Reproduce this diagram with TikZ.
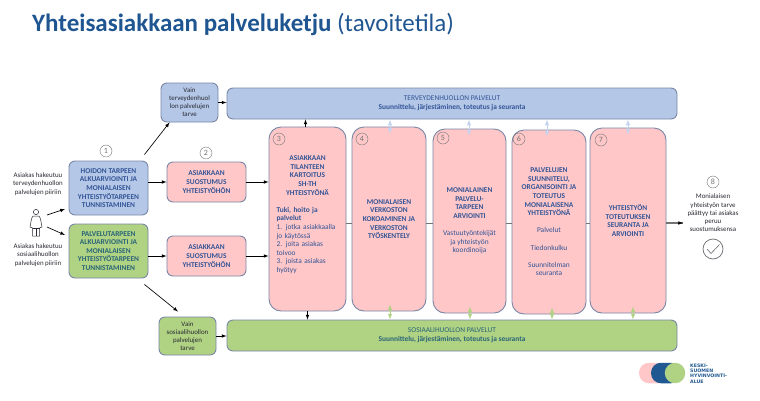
\documentclass[tikz,border=0pt]{standalone}
\usepackage{fontspec}
\setmainfont{Carlito}
\newfontfamily\logofont{DejaVu Sans}
\definecolor{mypink}{RGB}{255,199,200}
\definecolor{myblue}{RGB}{180,199,231}
\definecolor{mylightblue}{RGB}{196,212,238}
\definecolor{mygreen}{RGB}{176,210,131}
\definecolor{myedge}{RGB}{122,134,166}
\definecolor{mytitle}{RGB}{31,86,145}
\definecolor{mytext}{RGB}{50,84,150}
\definecolor{mygtext}{RGB}{40,100,120}
\definecolor{mydark}{RGB}{40,40,50}
\definecolor{mygrey}{RGB}{115,115,115}
\definecolor{mylogo}{RGB}{32,88,145}
\usetikzlibrary{arrows,positioning,calc}
\tikzstyle{box}=[draw=myedge,line width=0.9pt,align=center,inner sep=0pt,rounded corners=6pt]
\tikzstyle{bluebox}=[box,fill=myblue,text=mytext,font=\fontsize{7.4}{8.6}\selectfont\bfseries]
\tikzstyle{greenbox}=[box,fill=mygreen,text=mygtext,font=\fontsize{7.4}{8.6}\selectfont\bfseries]
\tikzstyle{pinkbox}=[box,fill=mypink,text=mytext,font=\fontsize{7.4}{8.6}\selectfont\bfseries]
\tikzstyle{tallbox}=[pinkbox,rounded corners=12pt,minimum height=184pt]
\tikzstyle{smallbox}=[box,text=mydark,font=\fontsize{6.9}{8}\selectfont,minimum width=57pt]
\tikzstyle{label}=[align=center,text=mydark,font=\fontsize{6.9}{8.2}\selectfont]
\tikzstyle{number}=[draw=mygrey,circle,minimum size=12pt,inner sep=0pt,text=mygrey,font=\fontsize{8}{9}\selectfont]
\tikzstyle{arrow}=[->,>=latex,black,line width=0.65pt]
\tikzstyle{bluearrow}=[<->,>=latex,mylightblue,line width=1pt]
\tikzstyle{greenarrow}=[<->,>=latex,mygreen,line width=1pt]
\begin{document}
\begin{tikzpicture}[x=1pt,y=-1pt]
\useasboundingbox (0,0) rectangle (760,400);
\draw (32,24.5) node [anchor=west,inner sep=0pt,text=mytitle,font=\fontsize{25}{28}\selectfont] (title) {\textbf{Yhteisasiakkaan palveluketju} (tavoitetila)};
% left column
\draw (108.5,188) node [bluebox,minimum width=79pt,minimum height=54pt] (hoidon) {HOIDON TARPEEN\\ALKUARVIOINTI JA\\MONIALAISEN\\YHTEISTYÖTARPEEN\\TUNNISTAMINEN};
\draw (108.5,251) node [greenbox,minimum width=79pt,minimum height=54pt] (palv) {PALVELUTARPEEN\\ALKUARVIOINTI JA\\MONIALAISEN\\YHTEISTYÖTARPEEN\\TUNNISTAMINEN};
\draw (206.5,182) node [pinkbox,minimum width=79pt,minimum height=40pt] (suost1) {ASIAKKAAN\\SUOSTUMUS\\YHTEISTYÖHÖN};
\draw (206.5,256) node [pinkbox,minimum width=79pt,minimum height=40pt] (suost2) {ASIAKKAAN\\SUOSTUMUS\\YHTEISTYÖHÖN};
\draw (189.5,102.5) node [smallbox,fill=myblue,minimum height=39pt] (vaint) {Vain\\terveydenhuol\\lon palvelujen\\tarve};
\draw (187.5,336) node [smallbox,fill=mygreen,minimum height=38pt] (vains) {Vain\\sosiaalihuollon\\palvelujen\\tarve};
% service bars
\draw (452,103.5) node [bluebox,minimum width=450pt,minimum height=31pt] (terv) {\mdseries TERVEYDENHUOLLON PALVELUT\\Suunnittelu, järjestäminen, toteutus ja seuranta};
\draw (452,335.5) node [greenbox,minimum width=450pt,minimum height=31pt] (sos) {\mdseries SOSIAALIHUOLLON PALVELUT\\Suunnittelu, järjestäminen, toteutus ja seuranta};
% tall boxes
\draw (307.5,219) node [tallbox,minimum width=77pt,text width=62pt,align=left] (k3) {\centering ASIAKKAAN\\TILANTEEN\\KARTOITUS\\SH-TH\\YHTEISTYÖNÄ\par\vspace{8.6pt}\raggedright Tuki, hoito ja\\palvelut\\\mdseries 1. jotka asiakkaalla\\jo käytössä\\2. joita asiakas\\toivoo\\3. joista asiakas\\hyötyy\par\vspace{8.6pt}};
\draw (389,219) node [tallbox,minimum width=74pt] (k4) {MONIALAISEN\\VERKOSTON\\KOKOAMINEN JA\\VERKOSTON\\TYÖSKENTELY};
\draw (469.5,221) node [tallbox,minimum width=73pt] (k5) {MONIALAINEN\\PALVELU-\\TARPEEN\\ARVIOINTI\\[8.6pt]\mdseries Vastuutyöntekijät\\\mdseries ja yhteistyön\\\mdseries koordinoija};
\draw (549,222) node [tallbox,minimum width=74pt] (k6) {PALVELUJEN\\SUUNNITELU,\\ORGANISOINTI JA\\TOTEUTUS\\MONIALAISENA\\YHTEISTYÖNÄ\\[8.6pt]\mdseries Palvelut\\[8.6pt]\mdseries Tiedonkulku\\[8.6pt]\mdseries Suunnitelman\\\mdseries seuranta};
\draw (628,220.5) node [tallbox,minimum width=76pt,minimum height=185pt] (k7) {YHTEISTYÖN\\TOTEUTUKSEN\\SEURANTA JA\\ARVIOINTI};
% numbers
\draw (106,151) node [number] (n1) {1};
\draw (206,153) node [number] (n2) {2};
\draw (279,139) node [number] (n3) {3};
\draw (362,139) node [number] (n4) {4};
\draw (443,138) node [number] (n5) {5};
\draw (519,139) node [number] (n6) {6};
\draw (601,140) node [number] (n7) {7};
\draw (713,182) node [number] (n8) {8};
% texts
\draw (38,184) node [label] (hakt) {Asiakas hakeutuu\\terveydenhuollon\\palvelujen piiriin};
\draw (38,255) node [label] (haks) {Asiakas hakeutuu\\sosiaalihuollon\\palvelujen piiriin};
\draw (713,213) node [label] (loppu) {Monialaisen\\yhteistyön tarve\\päättyy tai asiakas\\peruu\\suostumuksensa};
% person
\draw (36,224) node [minimum width=12pt,minimum height=26pt,inner sep=0pt] (person) {};
\draw[mydark,line width=0.5pt] (36,212) circle (2.6);
\draw[mydark,line width=0.5pt,fill=white] (33,216) -- (39,216) .. controls (41,218) and (41,223) .. (42,227) -- (39.5,228) -- (39.5,236) -- (32.5,236) -- (32.5,228) -- (30,227) .. controls (31,223) and (31,218) .. (33,216) -- cycle;
\draw[mydark,line width=0.5pt] (36,228) -- (36,236) (32.5,228) -- (39.5,228);
% check
\draw (713,249) node [draw=mydark!70,line width=0.7pt,circle,minimum size=20pt,inner sep=0pt] (ok) {};
\draw[mydark!70,line width=0.6pt] (707,249) -- (711,253.5) -- (719.5,244.5);
% arrows
\coordinate (pa) at (47,215);
\coordinate (pb) at (65,209);
\coordinate (pc) at (47,227);
\coordinate (pd) at (65,235);
\coordinate (mid) at (0,223);
\coordinate (loppuend) at (683,223);
\draw[arrow] (pa) -- (pb);
\draw[arrow] (pc) -- (pd);
\draw[arrow] ([xshift=-4pt,yshift=6pt]hoidon.north east) -- ([xshift=9pt]vaint.south west);
\draw[arrow] ([xshift=-4pt,yshift=-6pt]palv.south east) -- ([xshift=-9.5pt,yshift=5pt]vains.north);
\draw[arrow] (hoidon.east |- suost1) -- (suost1.west);
\draw[arrow] (palv.east |- suost2) -- (suost2.west);
\draw[arrow] (suost1.east) -- (suost1 -| k3.west);
\draw[arrow] (suost2.east) -- (suost2 -| k3.west);
\draw[arrow] (vaint.east) -- (vaint -| terv.west);
\draw[arrow] (vains.east) -- (vains -| sos.west);
\draw[arrow] ([xshift=-2pt]k3.north) -- ([xshift=-2pt]k3.north |- terv.south);
\draw[arrow] (k3.south) -- (k3.south |- sos.north);
\draw[mygrey,line width=0.8pt] (mid -| k3.east) -- (mid -| k4.west);
\draw[mygrey,line width=0.8pt] (mid -| k4.east) -- (mid -| k5.west);
\draw[mygrey,line width=0.8pt] (mid -| k5.east) -- (mid -| k6.west);
\draw[mygrey,line width=0.8pt] (mid -| k6.east) -- (mid -| k7.west);
\draw[mygrey,line width=1.2pt] (mid -| k7.east) -- (loppuend);
\draw[arrow] ($(loppuend)+(-5,0)$) -- (loppuend);
% two way arrows
\foreach \k/\xb/\xg in {k4/390/390,k5/469/470,k6/547/552,k7/628/633} {
  \coordinate (bx) at (\xb,0);
  \coordinate (gx) at (\xg,0);
  \draw[bluearrow] (bx |- terv.south) -- ($(bx |- \k.north)+(0,7)$);
  \draw[greenarrow] ($(gx |- \k.south)+(0,-7)$) -- (gx |- sos.north);
}
% logo
\draw (654,373) node [fill=mypink,rounded corners=10pt,minimum width=30pt,minimum height=20.5pt,inner sep=0pt] (logoa) {};
\draw (666,373) node [fill=mylogo,rounded corners=10pt,minimum width=30pt,minimum height=20.5pt,inner sep=0pt] (logob) {};
\draw (675,373) node [fill=mygreen,circle,minimum size=20.5pt,inner sep=0pt] (logoc) {};
\draw (690,373.5) node [anchor=west,align=left,inner sep=0pt,text=mylogo,font=\logofont\fontsize{4.7}{5.3}\selectfont\bfseries] (logot) {KESKI-\\SUOMEN\\HYVINVOINTI-\\ALUE};
\end{tikzpicture}
\end{document}
